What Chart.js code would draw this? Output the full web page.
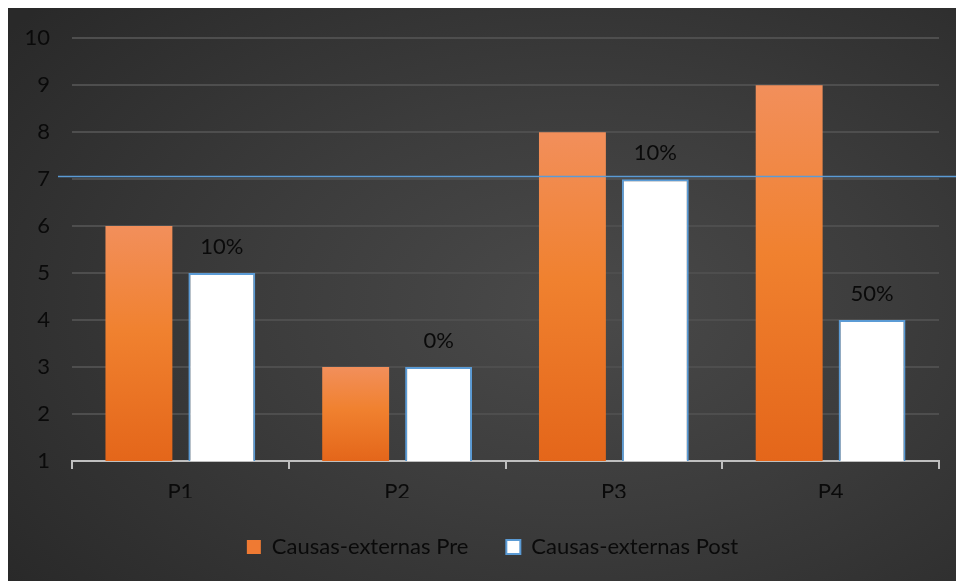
<!DOCTYPE html>
<html>
<head>
<meta charset="utf-8">
<script src="https://cdn.jsdelivr.net/npm/chart.js@4"></script>
<style>
    html, body { margin: 0; padding: 0; background: #ffffff; }
    #frame {
        position: absolute; left: 8px; top: 8px; width: 948px; height: 573px;
        background: radial-gradient(ellipse 75% 80% at 60% 52%, #4a4a4a 0%, #3c3c3c 45%, #292929 100%);
    }
    #frame canvas { display: block; position: absolute; left: 0; top: -5px; }
</style>
</head>
<body>
<div id="frame"><canvas id="chart" width="948" height="578"></canvas></div>
<script>
// ─── Data ──────────────────────────────────────────────
const categories = ['P1', 'P2', 'P3', 'P4'];
const preValues  = [6, 3, 8, 9];
const postValues = [5, 3, 7, 4];
const postLabels = ['10%', '0%', '10%', '50%'];
const seriesNames = ['Causas-externas Pre', 'Causas-externas Post'];
const targetLine = 7.06;

// ─── Shared config ─────────────────────────────────────
const C = {
    orangeTop:  '#F28F5B',
    orangeBot:  '#E4661A',
    postFill:   '#FFFFFF',
    postBorder: '#5B9BD5',
    grid:       '#4e4e4e',
    axis:       '#BFBFBF',
    text:       '#0a0a0a',
    font:       { size: 22, family: "'Lato', 'Noto Sans', sans-serif" }
};

// per-bar vertical gradient, light at the top, darker at the axis
function orangeGradient(ctx) {
    const chart = ctx.chart;
    const area = chart.chartArea;
    if (!area || ctx.type !== 'data') return C.orangeTop;
    const y = chart.scales.y;
    const top = y.getPixelForValue(ctx.raw);
    const g = chart.ctx.createLinearGradient(0, top, 0, area.bottom);
    g.addColorStop(0, C.orangeTop);
    g.addColorStop(0.45, '#F0812F');
    g.addColorStop(1, C.orangeBot);
    return g;
}

// horizontal reference line drawn across the plot
const refLinePlugin = {
    id: 'refLine',
    afterDatasetsDraw(chart) {
        const { ctx, scales: { y } } = chart;
        const py = Math.round(y.getPixelForValue(targetLine)) + 0.5;
        ctx.save();
        ctx.strokeStyle = C.postBorder;
        ctx.lineWidth = 1.5;
        ctx.beginPath();
        ctx.moveTo(chart.chartArea.left - 14, py);
        ctx.lineTo(chart.width, py);
        ctx.stroke();
        ctx.restore();
    }
};

// percentage labels above the Post bars
const postLabelPlugin = {
    id: 'postLabels',
    afterDatasetsDraw(chart) {
        const { ctx } = chart;
        const meta = chart.getDatasetMeta(1);
        ctx.save();
        ctx.fillStyle = C.text;
        ctx.font = `${C.font.size}px ${C.font.family}`;
        ctx.textAlign = 'center';
        ctx.textBaseline = 'middle';
        meta.data.forEach((bar, i) => {
            ctx.fillText(postLabels[i], bar.x, bar.y - 26);
        });
        ctx.restore();
    }
};

// nudge the legend row a little to the right
const legendShift = {
    id: 'legendShift',
    afterLayout(chart) {
        if (!chart.legend) return;
        chart.legend.left += 19;
        chart.legend.right += 19;
    }
};

new Chart(document.getElementById('chart').getContext('2d'), {
    type: 'bar',
    data: {
        labels: categories,
        datasets: [
            {
                label: seriesNames[0],
                data: preValues,
                backgroundColor: orangeGradient,
                borderWidth: 0,
                categoryPercentage: 0.765,
                barPercentage: 0.807
            },
            {
                label: seriesNames[1],
                data: postValues,
                backgroundColor: C.postFill,
                borderColor: C.postBorder,
                borderWidth: 2,
                categoryPercentage: 0.765,
                barPercentage: 0.807
            }
        ]
    },
    options: {
        responsive: false,
        animation: false,
        layout: { padding: { left: 0, right: 17, top: 17, bottom: 13 } },
        plugins: {
            tooltip: { enabled: false },
            legend: {
                display: true,
                position: 'bottom',
                labels: {
                    color: C.text,
                    font: C.font,
                    boxWidth: 14,
                    boxHeight: 14,
                    padding: 38,
                    generateLabels: chart => chart.data.datasets.map((ds, i) => ({
                        text: ds.label,
                        fillStyle: i === 0 ? '#EF7A33' : C.postFill,
                        strokeStyle: i === 0 ? '#EF7A33' : C.postBorder,
                        lineWidth: i === 0 ? 0 : 2,
                        fontColor: C.text,
                        datasetIndex: i
                    }))
                }
            }
        },
        scales: {
            x: {
                offset: true,
                grid: {
                    offset: true,
                    drawOnChartArea: false,
                    drawTicks: true,
                    tickLength: 8,
                    color: C.axis,
                    lineWidth: 2
                },
                border: { display: true, color: C.axis, width: 2 },
                ticks: { color: C.text, font: C.font, padding: 10 },
                afterFit: s => { s.height = 37; }
            },
            y: {
                min: 1,
                max: 10,
                ticks: { stepSize: 1, color: C.text, font: C.font, padding: 22 },
                grid: { color: C.grid, lineWidth: 2, drawTicks: false },
                border: { display: false },
                afterFit: s => { s.width = 64; }
            }
        }
    },
    plugins: [refLinePlugin, postLabelPlugin, legendShift]
});
</script>
</body>
</html>
